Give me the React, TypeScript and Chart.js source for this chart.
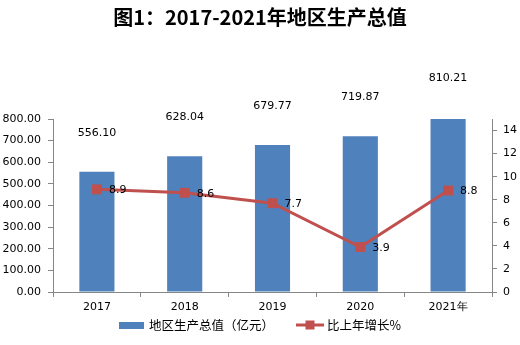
import React, { useEffect, useRef } from 'react';
import { Chart, registerables } from 'chart.js';

Chart.register(...registerables);

const titleText = '图1：2017-2021年地区生产总值';
const categories = ['2017', '2018', '2019', '2020', '2021年'];
const gdpValues = [556.1, 628.04, 679.77, 719.87, 810.21];
const growthValues = [8.9, 8.6, 7.7, 3.9, 8.8];
const rightTicks = [0, 2, 4, 6, 8, 10, 12, 14];
const gdpLabel = '地区生产总值（亿元）';
const growthLabel = '比上年增长%';

const BAR_COLOR = '#4F81BD';
const LINE_COLOR = '#C0504D';
const AXIS_COLOR = '#868686';
const NUM_FONT = '"DejaVu Sans", Verdana, sans-serif';
const CJK_FONT = '"Noto Sans CJK SC", sans-serif';

const overlayPlugin = {
  id: 'overlay',
  afterDatasetsDraw(chart: any) {
    const ctx = chart.ctx;
    ctx.save();
    // bar value labels
    const barMeta = chart.getDatasetMeta(0);
    ctx.font = `11px ${NUM_FONT}`;
    ctx.fillStyle = '#000';
    ctx.textAlign = 'center';
    ctx.textBaseline = 'middle';
    barMeta.data.forEach((el: any, i: number) => {
      ctx.fillText(gdpValues[i].toFixed(2), el.x, el.y - 39);
    });
    // line value labels
    const lineMeta = chart.getDatasetMeta(1);
    ctx.textAlign = 'left';
    lineMeta.data.forEach((el: any, i: number) => {
      ctx.fillText(growthValues[i].toFixed(1), el.x + 12, el.y + 1);
    });
    ctx.restore();
  },
  afterDraw(chart: any) {
    const ctx = chart.ctx;
    const W = chart.width;
    ctx.save();
    // title
    ctx.font = `bold 20px ${CJK_FONT}`;
    ctx.fillStyle = '#000';
    ctx.textAlign = 'center';
    ctx.textBaseline = 'middle';
    ctx.fillText(titleText, W / 2, 17);
    // legend
    ctx.font = `12.5px ${CJK_FONT}`;
    ctx.textAlign = 'left';
    const w1 = ctx.measureText(gdpLabel).width;
    const w2 = ctx.measureText(growthLabel).width;
    const sw = 25;
    const gap = 5;
    const itemGap = 22;
    const total = sw + gap + w1 + itemGap + 28 + 3 + w2;
    let x = W / 2 - total / 2;
    const y = 325;
    ctx.fillStyle = BAR_COLOR;
    ctx.fillRect(x, y - 3, sw, 7);
    ctx.fillStyle = '#000';
    ctx.fillText(gdpLabel, x + sw + gap, y);
    x += sw + gap + w1 + itemGap;
    ctx.strokeStyle = LINE_COLOR;
    ctx.lineWidth = 3;
    ctx.beginPath();
    ctx.moveTo(x, y);
    ctx.lineTo(x + 28, y);
    ctx.stroke();
    ctx.fillStyle = LINE_COLOR;
    ctx.fillRect(x + 14 - 4.5, y - 4.5, 9, 9);
    ctx.fillStyle = '#000';
    ctx.fillText(growthLabel, x + 31, y);
    ctx.restore();
  },
};

export default function App() {
  const ref = useRef<HTMLCanvasElement | null>(null);
  useEffect(() => {
    document.body.style.margin = '0';
    const canvas = ref.current;
    if (!canvas) return;
    const chart = new Chart(canvas, {
      type: 'bar',
      data: {
        labels: categories,
        datasets: [
          {
            type: 'bar',
            label: gdpLabel,
            data: gdpValues,
            backgroundColor: BAR_COLOR,
            barPercentage: 0.4,
            categoryPercentage: 1,
            yAxisID: 'y',
            order: 1,
          },
          {
            type: 'line',
            label: growthLabel,
            data: growthValues,
            borderColor: LINE_COLOR,
            backgroundColor: LINE_COLOR,
            borderWidth: 3,
            pointStyle: 'rect',
            pointRadius: 7,
            pointBorderWidth: 0,
            pointBackgroundColor: LINE_COLOR,
            tension: 0,
            yAxisID: 'y1',
            order: 0,
          } as any,
        ],
      },
      options: {
        responsive: false,
        animation: false,
        layout: { padding: { top: 119, left: 0, right: 0, bottom: 0 } },
        plugins: {
          legend: { display: false },
          title: { display: false },
          tooltip: { enabled: false },
        },
        scales: {
          x: {
            offset: true,
            grid: {
              display: true,
              offset: true,
              drawOnChartArea: false,
              drawTicks: true,
              tickLength: 5,
              color: AXIS_COLOR,
            },
            border: { display: true, color: AXIS_COLOR, width: 1 },
            ticks: {
              color: '#000',
              font: { family: NUM_FONT, size: 11 },
              padding: 4,
              maxRotation: 0,
            },
            afterFit(scale: any) {
              scale.height = 53;
            },
          },
          y: {
            position: 'left',
            min: 0,
            max: 800,
            ticks: {
              stepSize: 100,
              color: '#000',
              font: { family: NUM_FONT, size: 11 },
              padding: 7,
              callback: (v: any) => Number(v).toFixed(2),
            },
            grid: {
              display: true,
              drawOnChartArea: false,
              tickLength: 5,
              color: AXIS_COLOR,
            },
            border: { display: true, color: AXIS_COLOR, width: 1 },
            afterFit(scale: any) {
              scale.width = 53;
            },
          },
          y1: {
            position: 'right',
            min: 0,
            max: 15,
            ticks: {
              stepSize: 2,
              color: '#000',
              font: { family: NUM_FONT, size: 11 },
              padding: 6,
            },
            afterBuildTicks(scale: any) {
              scale.ticks = rightTicks.map((v) => ({ value: v }));
            },
            grid: {
              display: true,
              drawOnChartArea: false,
              tickLength: 5,
              color: AXIS_COLOR,
            },
            border: { display: true, color: AXIS_COLOR, width: 1 },
            afterFit(scale: any) {
              scale.width = 28;
            },
          },
        },
      },
      plugins: [overlayPlugin],
    });
    return () => chart.destroy();
  }, []);
  return <canvas ref={ref} width={520} height={345} style={{ display: 'block' }} />;
}
